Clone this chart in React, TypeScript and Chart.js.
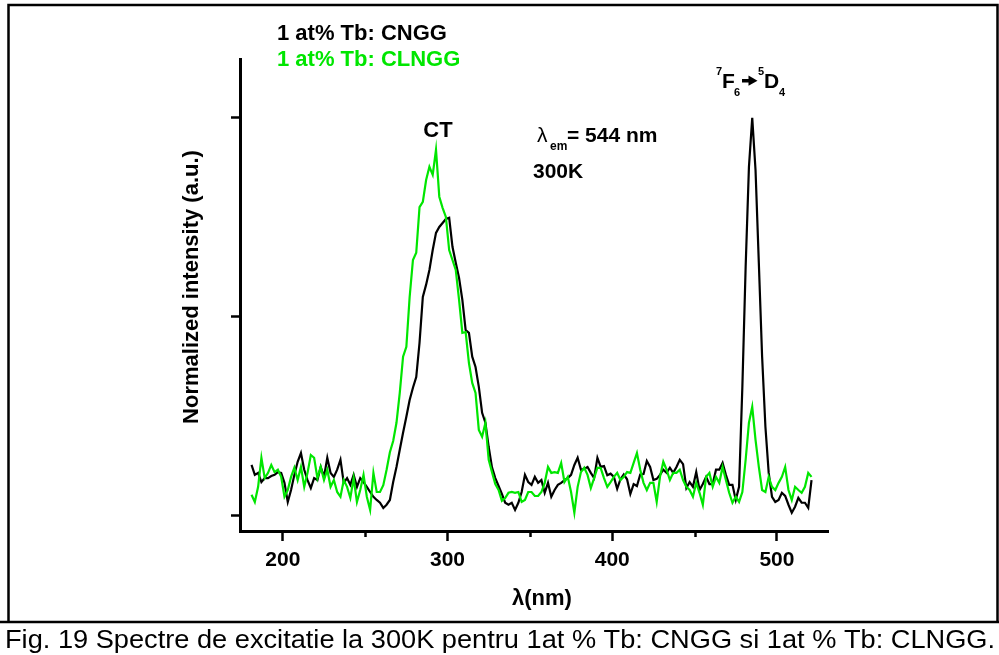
import React, { useEffect, useRef } from 'react';
import { Chart, registerables } from 'chart.js';

Chart.register(...registerables);

// Excitation spectra (lambda_em = 544 nm, 300 K), sampled every 2 nm from 181 nm
const START_NM = 181;
const STEP_NM = 2;

// 1 at% Tb: CNGG (normalized, %)
const cngg = [
  12.8, 10.3, 10.8, 8.5, 9.5, 9.5, 10.0, 10.3, 11.0, 10.8,
  8.3, 3.5, 6.5, 10.3, 13.6, 15.8, 11.6, 9.0, 7.0, 9.5,
  9.0, 12.3, 9.8, 14.6, 10.8, 9.8, 11.6, 14.1, 8.3, 9.5,
  7.8, 10.3, 7.3, 9.5, 8.5, 7.3, 6.0, 4.8, 4.0, 3.3,
  2.0, 2.8, 4.0, 8.5, 12.3, 16.6, 20.9, 24.9, 29.1, 32.2,
  34.9, 43.5, 55.0, 58.1, 61.8, 66.8, 71.1, 72.6, 73.6, 74.6,
  74.9, 67.6, 63.6, 59.8, 54.3, 46.7, 46.0, 40.0, 37.4, 32.4,
  25.9, 23.4, 17.3, 12.2, 9.5, 7.5, 5.5, 3.3, 2.8, 3.3,
  1.5, 3.3, 6.0, 10.3, 8.5, 7.8, 9.8, 8.3, 9.0, 5.8,
  8.3, 4.8, 6.5, 7.8, 8.3, 9.0, 9.5, 10.3, 12.8, 14.6,
  11.6, 11.8, 12.3, 10.8, 9.5, 14.6, 12.3, 12.5, 10.2, 10.6,
  9.8, 6.8, 9.2, 10.4, 9.2, 5.5, 8.0, 7.5, 10.4, 10.5,
  13.8, 12.3, 9.0, 9.3, 10.3, 11.6, 10.8, 12.1, 10.8, 12.3,
  14.1, 13.0, 7.0, 8.5, 7.3, 11.0, 6.5, 8.0, 9.8, 8.0,
  8.0, 11.6, 11.6, 13.3, 10.3, 7.8, 7.8, 4.0, 7.3, 32.4,
  62.6, 87.7, 100, 86.9, 63.6, 40.0, 22.4, 10.8, 4.8, 3.5,
  4.0, 5.8, 5.0, 2.8, 0.8, 2.3, 4.5, 3.3, 3.3, 2.0,
  9.0,
];

// 1 at% Tb: CLNGG (normalized, %)
const clngg = [
  5.3, 3.5, 7.3, 14.6, 9.5, 10.8, 12.8, 11.0, 11.6, 9.8,
  4.8, 6.5, 9.8, 12.1, 9.0, 12.3, 7.3, 10.8, 15.3, 14.6,
  9.5, 12.3, 9.0, 11.6, 7.3, 9.0, 6.0, 4.8, 9.0, 7.3,
  4.5, 9.5, 3.5, 6.5, 10.3, 4.8, 1.5, 10.8, 6.0, 6.0,
  7.7, 11.6, 16.0, 18.8, 23.4, 30.9, 40.0, 42.5, 55.0, 64.3,
  66.1, 77.6, 78.9, 84.4, 87.7, 85.7, 92.0, 80.2, 77.4, 75.1,
  66.8, 64.3, 61.8, 54.3, 46.0, 46.2, 38.4, 33.4, 30.9, 21.6,
  19.9, 23.4, 14.1, 11.0, 8.0, 6.5, 3.8, 4.5, 5.8, 6.0,
  5.8, 6.0, 3.5, 4.0, 6.0, 6.0, 5.0, 5.0, 6.0, 8.3,
  12.3, 10.8, 11.0, 10.8, 13.3, 8.5, 9.8, 6.0, 0.8, 7.3,
  11.0, 12.1, 10.3, 7.0, 9.5, 12.1, 12.0, 9.5, 7.3, 8.5,
  9.8, 10.8, 9.0, 9.8, 11.0, 10.8, 13.3, 15.8, 11.6, 8.3,
  6.5, 8.3, 8.3, 3.5, 9.8, 13.6, 11.6, 9.0, 10.8, 10.8,
  11.6, 9.0, 7.3, 6.5, 4.8, 8.3, 5.8, 2.8, 9.8, 10.8,
  7.3, 9.8, 8.3, 12.3, 9.0, 5.8, 3.3, 4.8, 3.5, 6.0,
  14.1, 23.4, 27.4, 19.1, 12.3, 6.5, 6.0, 9.8, 7.3, 6.5,
  8.3, 9.8, 12.3, 6.5, 4.0, 7.3, 6.5, 5.8, 7.3, 10.8,
  9.8,
];

const wavelengths = cngg.map((_, i) => START_NM + STEP_NM * i);

const xMajorTicks = [200, 300, 400, 500];
const xMinorTicks = [250, 350, 450];
const yTicks = [0, 50, 100];

const X_MIN = 174;
const X_MAX = 531;
const Y_MIN = -3.8;
const Y_MAX = 114.8;

const GREEN = 'rgb(0, 230, 0)';
const FONT = '"Liberation Sans", Arial, Helvetica, sans-serif';
const CAPTION =
  'Fig. 19 Spectre de excitatie la 300K pentru 1at % Tb: CNGG si 1at % Tb: CLNGG.';

const W = 999;
const H = 655;

function text(
  ctx: CanvasRenderingContext2D,
  s: string,
  x: number,
  y: number,
  size: number,
  color = '#000',
  weight = 'bold',
  align: CanvasTextAlign = 'left'
) {
  ctx.font = `${weight} ${size}px ${FONT}`;
  ctx.fillStyle = color;
  ctx.textAlign = align;
  ctx.textBaseline = 'alphabetic';
  ctx.fillText(s, x, y);
}

const decorPlugin = {
  id: 'decor',
  afterDraw(chart: any) {
    const ctx: CanvasRenderingContext2D = chart.ctx;
    const xs = chart.scales.x;
    ctx.save();

    // minor ticks on the wavelength axis
    ctx.strokeStyle = '#000';
    ctx.lineWidth = 2.5;
    xMinorTicks.forEach((v) => {
      const p = Math.round(xs.getPixelForValue(v)) + 0.5;
      ctx.beginPath();
      ctx.moveTo(p, xs.top);
      ctx.lineTo(p, xs.top + 6);
      ctx.stroke();
    });

    // figure frame and caption cell
    ctx.lineWidth = 2.5;
    ctx.beginPath();
    ctx.moveTo(8.5, 622);
    ctx.lineTo(8.5, 5);
    ctx.lineTo(997.5, 5);
    ctx.lineTo(997.5, 622);
    ctx.moveTo(0, 622);
    ctx.lineTo(W, 622);
    ctx.stroke();

    // legend
    text(ctx, '1 at% Tb: CNGG', 277, 40, 22, '#000');
    text(ctx, '1 at% Tb: CLNGG', 277, 66, 22, GREEN);

    // annotations
    text(ctx, 'CT', 438, 137, 22, '#000', 'bold', 'center');
    text(ctx, 'λ', 537, 142, 21, '#000', 'normal');
    text(ctx, 'em', 550, 150, 12, '#000');
    text(ctx, '= 544 nm', 567, 142, 21, '#000');
    text(ctx, '300K', 533, 178, 21, '#000');

    // 7F6 -> 5D4 transition label
    text(ctx, '7', 716, 75, 11);
    text(ctx, 'F', 722, 88, 21);
    text(ctx, '6', 734, 96, 11);
    ctx.fillStyle = '#000';
    ctx.fillRect(742, 79, 8, 3.5);
    ctx.beginPath();
    ctx.moveTo(748.5, 75.5);
    ctx.lineTo(757.5, 80.7);
    ctx.lineTo(748.5, 85.8);
    ctx.closePath();
    ctx.fill();
    text(ctx, '5', 758, 75, 11);
    text(ctx, 'D', 764, 88, 21);
    text(ctx, '4', 779, 96, 11);

    // axis titles
    text(ctx, 'λ(nm)', 542, 605, 22, '#000', 'bold', 'center');
    ctx.save();
    ctx.translate(198, 287);
    ctx.rotate(-Math.PI / 2);
    text(ctx, 'Normalized intensity (a.u.)', 0, 0, 22, '#000', 'bold', 'center');
    ctx.restore();

    // caption
    ctx.font = `26px ${FONT}`;
    ctx.fillStyle = '#000';
    ctx.textAlign = 'left';
    const cw = ctx.measureText(CAPTION).width;
    ctx.save();
    ctx.translate(5, 648);
    ctx.scale(990 / cw, 1);
    ctx.fillText(CAPTION, 0, 0);
    ctx.restore();

    ctx.restore();
  },
};

export default function App() {
  const ref = useRef<HTMLCanvasElement | null>(null);

  useEffect(() => {
    if (!ref.current) return;
    const chart = new Chart(ref.current, {
      type: 'line',
      data: {
        datasets: [
          {
            label: '1 at% Tb: CLNGG',
            data: wavelengths.map((x, i) => ({ x, y: clngg[i] })),
            borderColor: GREEN,
            borderWidth: 2.2,
            pointRadius: 0,
            tension: 0,
          },
          {
            label: '1 at% Tb: CNGG',
            data: wavelengths.map((x, i) => ({ x, y: cngg[i] })),
            borderColor: '#000',
            borderWidth: 2.2,
            pointRadius: 0,
            tension: 0,
          },
        ],
      },
      options: {
        animation: false,
        responsive: false,
        maintainAspectRatio: false,
        layout: { padding: { left: 0, top: 59, right: W - 828, bottom: 0 } },
        plugins: { legend: { display: false }, tooltip: { enabled: false } },
        scales: {
          x: {
            type: 'linear',
            min: X_MIN,
            max: X_MAX,
            afterBuildTicks: (axis: any) => {
              axis.ticks = xMajorTicks.map((v) => ({ value: v }));
            },
            afterFit: (axis: any) => {
              axis.height = H - 531;
            },
            ticks: {
              color: '#000',
              padding: 7,
              maxRotation: 0,
              autoSkip: false,
              font: { family: FONT, size: 21, weight: 'bold' },
              callback: (v: any) => String(v),
            },
            grid: {
              drawOnChartArea: false,
              drawTicks: true,
              tickLength: 10,
              tickWidth: 2.5,
              tickColor: '#000',
              color: '#000',
            },
            border: { display: true, color: '#000', width: 3 },
          },
          y: {
            type: 'linear',
            min: Y_MIN,
            max: Y_MAX,
            afterBuildTicks: (axis: any) => {
              axis.ticks = yTicks.map((v) => ({ value: v }));
            },
            afterFit: (axis: any) => {
              axis.width = 240;
            },
            ticks: { display: false },
            grid: {
              drawOnChartArea: false,
              drawTicks: true,
              tickLength: 9,
              tickWidth: 2.5,
              tickColor: '#000',
              color: '#000',
            },
            border: { display: true, color: '#000', width: 3 },
          },
        },
      },
      plugins: [decorPlugin],
    } as any);
    return () => chart.destroy();
  }, []);

  return (
    <div
      style={{
        position: 'fixed',
        left: 0,
        top: 0,
        width: W,
        height: H,
        background: '#fff',
      }}
    >
      <canvas ref={ref} width={W} height={H} style={{ width: W, height: H }} />
    </div>
  );
}
